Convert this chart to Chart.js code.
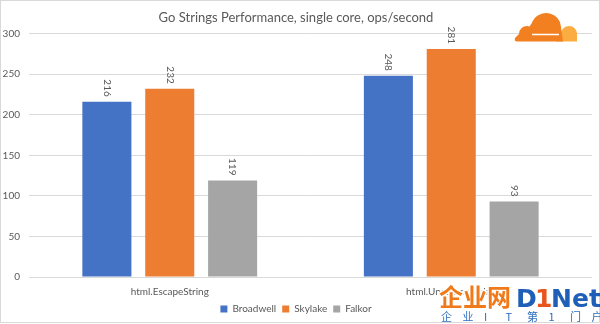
<!DOCTYPE html>
<html>
<head>
<meta charset="utf-8">
<script src="https://cdn.jsdelivr.net/npm/chart.js@4"></script>
<style>
  html, body { margin: 0; padding: 0; background: #fff; }
  #wrap { width: 600px; height: 324px; }
</style>
</head>
<body>
<div id="wrap"><canvas id="grafico" width="600" height="324"></canvas></div>
<script>
// Datos de la gráfica
const categorias = ['html.EscapeString', 'html.UnescapeString'];
const series = ['Broadwell', 'Skylake', 'Falkor'];
const broadwell = [216, 248];
const skylake = [232, 281];
const falkor = [119, 93];
const colores = ['#4472C4', '#ED7D31', '#A5A5A5'];
const ticksY = [0, 50, 100, 150, 200, 250, 300];

const gris = '#595959';
Chart.defaults.font.family = 'Lato, "Open Sans", sans-serif';
Chart.defaults.color = gris;

// Fondo blanco y marco fino
const fondo = {
    id: 'fondo',
    beforeDraw(chart) {
        const c = chart.ctx;
        c.save();
        c.fillStyle = '#fff';
        c.fillRect(0, 0, chart.width, chart.height);
        c.strokeStyle = '#D9D9D9';
        c.lineWidth = 1;
        c.strokeRect(0.5, 0.5, chart.width - 1, chart.height - 2);
        c.restore();
    }
};

// Etiquetas de valor giradas encima de cada barra
const etiquetas = {
    id: 'etiquetas',
    afterDatasetsDraw(chart) {
        const c = chart.ctx;
        c.save();
        c.font = '10px Lato, "Open Sans", sans-serif';
        c.fillStyle = gris;
        c.textAlign = 'right';
        c.textBaseline = 'middle';
        chart.data.datasets.forEach((ds, i) => {
            chart.getDatasetMeta(i).data.forEach((bar, j) => {
                c.save();
                c.translate(bar.x, bar.y - 5);
                c.rotate(Math.PI / 2);
                c.fillText(String(ds.data[j]), 0, 0);
                c.restore();
            });
        });
        c.restore();
    }
};

// Logo de la nube en la esquina
const nube = {
    id: 'nube',
    afterDraw(chart) {
        const c = chart.ctx;
        c.save();
        // nube pequeña clara
        c.fillStyle = '#FBAD41';
        c.beginPath();
        c.arc(569, 34, 8, Math.PI, 0);
        c.lineTo(577, 41.5);
        c.lineTo(556, 41.5);
        c.closePath();
        c.fill();
        // nube grande
        c.fillStyle = '#F38020';
        c.beginPath();
        c.arc(527, 34, 8, Math.PI, Math.PI * 1.6);
        c.arc(546, 28, 15, Math.PI * 1.1, Math.PI * 1.95);
        c.lineTo(563, 41.5);
        c.lineTo(517, 41.5);
        c.quadraticCurveTo(514, 41.5, 515, 38);
        c.closePath();
        c.fill();
        // franja blanca
        c.strokeStyle = '#fff';
        c.lineWidth = 1.5;
        c.beginPath();
        c.moveTo(532, 34.5);
        c.lineTo(559, 34.5);
        c.stroke();
        c.restore();
    }
};

// Marca de agua inferior
const marca = {
    id: 'marca',
    afterDraw(chart) {
        const c = chart.ctx;
        c.save();
        c.textBaseline = 'alphabetic';
        c.textAlign = 'left';
        c.font = 'bold 24px "Noto Sans CJK SC", sans-serif';
        c.lineWidth = 3;
        c.strokeStyle = '#fff';
        c.strokeText('企业网', 439, 306);
        c.fillStyle = '#F07A1A';
        c.fillText('企业网', 439, 306);
        c.font = 'bold 25px "DejaVu Sans", sans-serif';
        c.fillStyle = '#1F5FB8';
        c.fillText('D', 516, 307);
        c.fillStyle = '#E8541C';
        c.fillText('1', 535, 307);
        c.fillStyle = '#1F5FB8';
        c.fillText('Net', 551, 307);
        c.font = '11px "Noto Sans CJK SC", sans-serif';
        c.fillStyle = '#2F6FC0';
        const chars = ['企', '业', 'I', 'T', '第', '1', '门', '户'];
        chars.forEach((ch, i) => c.fillText(ch, 441 + i * 21.5, 321));
        c.restore();
    }
};

const ctx = document.getElementById('grafico').getContext('2d');
const myChart = new Chart(ctx, {
    type: 'bar',
    data: {
        labels: categorias,
        datasets: series.map((nombre, i) => ({
            label: nombre,
            data: [broadwell, skylake, falkor][i],
            backgroundColor: colores[i],
            borderWidth: 0,
            categoryPercentage: 0.67,
            barPercentage: 0.78
        }))
    },
    options: {
        responsive: false,
        animation: false,
        layout: { padding: { left: 0, right: 8, top: 0, bottom: 0 } },
        scales: {
            x: {
                grid: { display: false, drawTicks: false },
                border: { display: false },
                afterFit(scale) { scale.height = 21; },
                ticks: { font: { size: 10 }, color: gris, padding: 9 }
            },
            y: {
                min: 0,
                max: 300,
                afterBuildTicks(scale) {
                    scale.ticks = ticksY.map(v => ({ value: v }));
                },
                afterFit(scale) { scale.width = 29; },
                grid: { color: '#D9D9D9', drawTicks: false },
                border: { display: false },
                ticks: { font: { size: 10 }, color: gris, padding: 9 }
            }
        },
        plugins: {
            legend: {
                display: true,
                position: 'bottom',
                labels: {
                    boxWidth: 7,
                    boxHeight: 7,
                    padding: 6,
                    font: { size: 10 },
                    color: gris
                }
            },
            title: {
                display: true,
                text: 'Go Strings Performance, single core, ops/second',
                font: { size: 13, weight: 'normal' },
                color: gris,
                padding: { top: 10, bottom: 8 }
            },
            tooltip: { enabled: false }
        }
    },
    plugins: [fondo, etiquetas, nube, marca]
});
</script>
</body>
</html>
